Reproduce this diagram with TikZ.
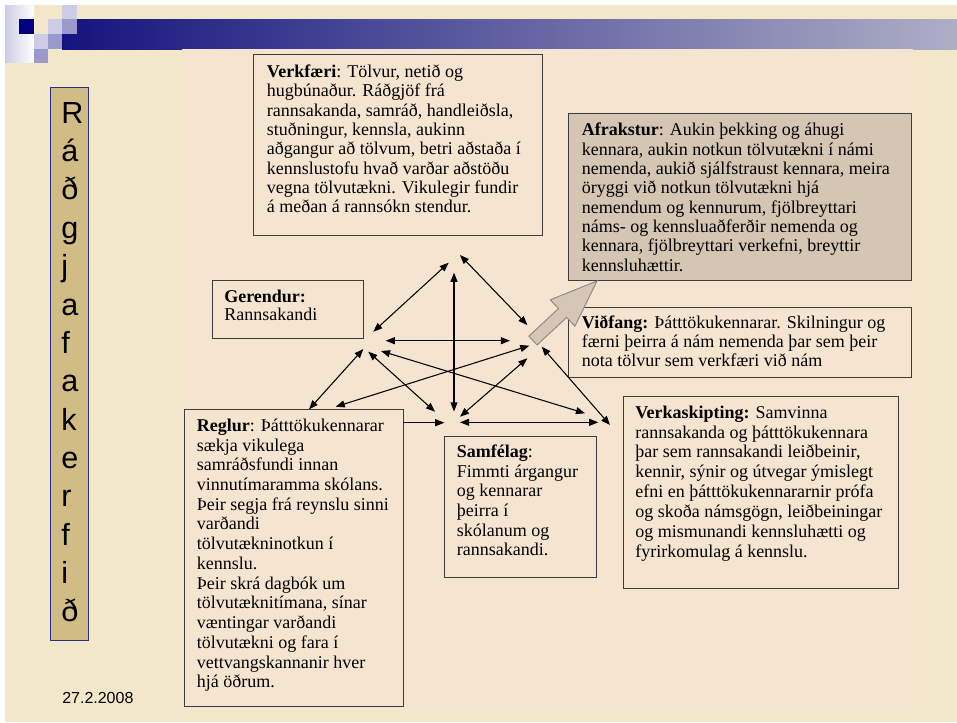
\documentclass[tikz,border=0pt]{standalone}
\usepackage{fontspec}
\setmainfont{Liberation Serif}
\newfontfamily\arialf{Liberation Sans}
\usetikzlibrary{arrows.meta}
\definecolor{slidebg}{HTML}{F2E7C9}
\definecolor{panelbg}{HTML}{F5E4D0}
\definecolor{barL}{HTML}{14147E}
\definecolor{barR}{HTML}{AEAEC6}
\definecolor{lavL}{HTML}{CCCCE6}
\definecolor{lavM}{HTML}{9999CC}
\definecolor{navysq}{HTML}{000080}
\definecolor{vboxfill}{HTML}{D2BC86}
\definecolor{vboxline}{HTML}{2B2B8C}
\definecolor{boxline}{HTML}{3C3C3C}
\definecolor{afrfill}{HTML}{D5C5B3}
\definecolor{bigarrow}{HTML}{D6C6B6}
\definecolor{bigarrowline}{HTML}{8C8C8C}
\tikzset{
  box/.style={draw=boxline, line width=0.8pt, fill=panelbg, inner sep=0pt, anchor=north west},
  txt/.style={anchor=north west, inner sep=0pt, align=left},
  vletter/.style={anchor=base west, inner sep=0pt, font=\arialf\fontsize{22.9}{27}\selectfont},
  dbl/.style={line width=0.8pt, {Triangle[length=6.8pt,width=5.2pt]}-{Triangle[length=6.8pt,width=5.2pt]}},
  sgl/.style={line width=0.8pt, -{Triangle[length=6.8pt,width=5.2pt]}}
}
\newcommand{\boxfont}[1]{\fontsize{13.5}{#1}\selectfont\lineskiplimit=-20pt\relax}
\begin{document}
\begin{tikzpicture}[x=0.75pt,y=-0.75pt]
\useasboundingbox (0,0) rectangle (957,722);
% background
\fill[slidebg] (0,0) rectangle (957,722);
\fill[white] (0,0) rectangle (957,5);
\fill[white] (0,0) rectangle (5,722);
\shade[left color=barL, right color=barR] (62,19) rectangle (957,49);
\shade[left color=lavL, right color=white] (5,5) rectangle (34,62);
\fill[navysq] (19,19) rectangle (34,34);
\fill[lavL] (62,5) rectangle (77,19);
\fill[lavL] (48,19) rectangle (62,34);
\fill[lavM] (62,19) rectangle (77,34);
\fill[lavL] (34,34) rectangle (48,49);
\fill[lavM] (48,34) rectangle (62,49);
\fill[lavM] (34,49) rectangle (48,63);
\fill[panelbg] (182,49) rectangle (913,710);

% vertical title
\node[draw=vboxline, line width=0.9pt, fill=vboxfill, inner sep=0pt, anchor=north west,
      minimum width={38.2*0.75pt}, minimum height={553*0.75pt}] (vbox) at (49.5,87) {};
\foreach \c [count=\i from 0] in {R,á,ð,g,j,a,f,a,k,e,r,f,i,ð}
  \node[vletter] (vl\i) at (61,{123.3+38.34*\i}) {\c};

\node[anchor=base west, inner sep=0pt, font=\arialf\fontsize{12}{14}\selectfont] (date) at (62,703.3) {27.2.2008};

% boxes
\node[box, minimum width={289*0.75pt}, minimum height={181*0.75pt}] (verkfaeri) at (253,54) {};
\node[txt, font=\boxfont{14.5}] (verkfaeritxt) at (266.7,64.5) {\textbf{Verkfæri}: Tölvur, netið og\\
hugbúnaður. Ráðgjöf frá\\
rannsakanda, samráð, handleiðsla,\\
stuðningur, kennsla, aukinn\\
aðgangur að tölvum, betri aðstaða í\\
kennslustofu hvað varðar aðstöðu\\
vegna tölvutækni. Vikulegir fundir\\
á meðan á rannsókn stendur.};

\node[box, fill=afrfill, minimum width={342.7*0.75pt}, minimum height={167.3*0.75pt}] (afrakstur) at (568.3,112.7) {};
\node[txt, font=\boxfont{14.5}] (afrakstursTxt) at (581.7,122.8) {\textbf{Afrakstur}: Aukin þekking og áhugi\\
kennara, aukin notkun tölvutækni í námi\\
nemenda, aukið sjálfstraust kennara, meira\\
öryggi við notkun tölvutækni hjá\\
nemendum og kennurum, fjölbreyttari\\
náms- og kennsluaðferðir nemenda og\\
kennara, fjölbreyttari verkefni, breyttir\\
kennsluhættir.};

\node[box, minimum width={343*0.75pt}, minimum height={70*0.75pt}] (vidfang) at (568,306.7) {};
\node[txt, font=\boxfont{14.25}] (vidfangtxt) at (581.7,315.5) {\textbf{Viðfang:} Þátttökukennarar. Skilningur og\\
færni þeirra á nám nemenda þar sem þeir\\
nota tölvur sem verkfæri við nám};

\node[box, minimum width={151*0.75pt}, minimum height={58*0.75pt}] (gerendur) at (211.7,280) {};
\node[txt, font=\boxfont{14}] (gerendurtxt) at (224,289.5) {\textbf{Gerendur:}\\
Rannsakandi};

\node[box, minimum width={219.3*0.75pt}, minimum height={296.7*0.75pt}] (reglur) at (184,409.3) {};
\node[txt, font=\boxfont{14.8}] (reglurtxt) at (196.7,418.5) {\textbf{Reglur}: Þátttökukennarar\\
sækja vikulega\\
samráðsfundi innan\\
vinnutímaramma skólans.\\
Þeir segja frá reynslu sinni\\
varðandi\\
tölvutækninotkun í\\
kennslu.\\
Þeir skrá dagbók um\\
tölvutæknitímana, sínar\\
væntingar varðandi\\
tölvutækni og fara í\\
vettvangskannanir hver\\
hjá öðrum.};

\node[box, minimum width={151.4*0.75pt}, minimum height={141.6*0.75pt}] (samfelag) at (444.3,435.7) {};
\node[txt, font=\boxfont{14.75}] (samfelagtxt) at (456.7,444.5) {\textbf{Samfélag}:\\
Fimmti árgangur\\
og kennarar\\
þeirra í\\
skólanum og\\
rannsakandi.};

\node[box, minimum width={275*0.75pt}, minimum height={192.3*0.75pt}] (verkaskipting) at (622.7,396) {};
\node[txt, font=\boxfont{14.9}] (verkaskiptingtxt) at (635,405.5) {\textbf{Verkaskipting:} Samvinna\\
rannsakanda og þátttökukennara\\
þar sem rannsakandi leiðbeinir,\\
kennir, sýnir og útvegar ýmislegt\\
efni en þátttökukennararnir prófa\\
og skoða námsgögn, leiðbeiningar\\
og mismunandi kennsluhætti og\\
fyrirkomulag á kennslu.};

% big arrow
\draw[fill=bigarrow, draw=bigarrowline, line width=0.75pt]
  (528.9,336.1) -- (558.5,308.6) -- (550.3,299.8) -- (597,281) -- (574.9,326.2) -- (566.7,317.4) -- (537.1,344.9) -- cycle;

% arrow end points
\coordinate (a1s) at (448.7,262.7);  \coordinate (a1e) at (373.3,331.7);
\coordinate (a2s) at (460,255);      \coordinate (a2e) at (527.3,325);
\coordinate (a3s) at (454,272.7);    \coordinate (a3e) at (454,411.5);
\coordinate (a4s) at (385.7,340.7);  \coordinate (a4e) at (510,340.7);
\coordinate (a5s) at (363.3,349);    \coordinate (a5e) at (309,409.3);
\coordinate (a6s) at (529.3,345.7);  \coordinate (a6e) at (335.7,406.7);
\coordinate (a7s) at (368.3,351.7);  \coordinate (a7e) at (435,411.7);
\coordinate (a8s) at (381,351);      \coordinate (a8e) at (585,413.3);
\coordinate (a9s) at (527.3,358.3);  \coordinate (a9e) at (460,416.7);
\coordinate (a10s) at (541.7,346.7); \coordinate (a10e) at (610,425);
\coordinate (a11s) at (460,422.3);   \coordinate (a11e) at (598.3,422.3);
\coordinate (a12s) at (403.3,422.7); \coordinate (a12e) at (444.3,422.7);

\draw[dbl] (a1s) -- (a1e);
\draw[dbl] (a2s) -- (a2e);
\draw[dbl] (a3s) -- (a3e);
\draw[dbl] (a4s) -- (a4e);
\draw[dbl] (a5s) -- (a5e);
\draw[dbl] (a6s) -- (a6e);
\draw[dbl] (a7s) -- (a7e);
\draw[dbl] (a8s) -- (a8e);
\draw[dbl] (a9s) -- (a9e);
\draw[dbl] (a10s) -- (a10e);
\draw[dbl] (a11s) -- (a11e);
\draw[sgl] (a12s) -- (a12e);
\end{tikzpicture}
\end{document}
